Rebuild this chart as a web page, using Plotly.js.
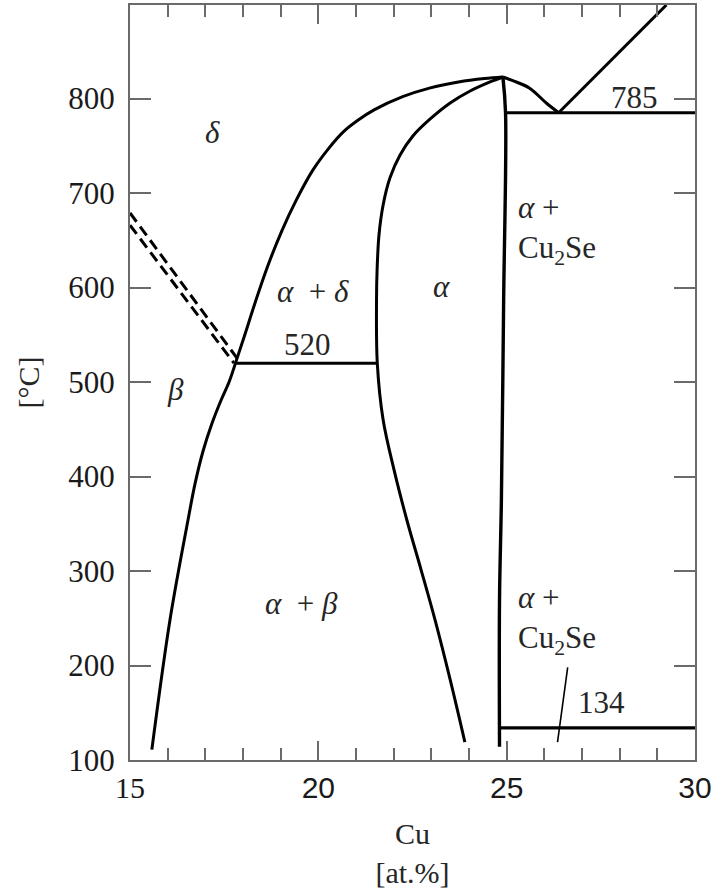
<!DOCTYPE html>
<html>
<head>
<meta charset="utf-8">
<script src="https://cdn.plot.ly/plotly-3.0.1.min.js"></script>
<style>
  html, body { margin: 0; padding: 0; background: #ffffff; }
  #chart { width: 719px; height: 891px; }
</style>
</head>
<body>
<div id="chart"></div>
<script>
// Cu–Se phase boundaries, composition in at.% Cu, temperature in °C

// delta / (alpha + delta) boundary, from the 520 °C eutectoid up to the alpha maximum
const cuDelta = [17.8, 18.04, 18.33, 18.65, 19.02, 19.42, 19.85, 20.25, 20.67, 21.05, 21.48,
                 22.24, 22.95, 23.72, 24.41, 24.9];
const tDelta  = [520, 549, 585, 622, 659, 693, 724, 746, 765, 777, 788,
                 802, 811, 817.5, 821.2, 822.8];

// (alpha + delta) / alpha and alpha / (alpha + beta) boundary, from the maximum downwards
const cuAlpha = [24.9, 24.56, 24.03, 23.50, 22.97, 22.51, 22.17, 21.90, 21.72, 21.61, 21.56, 21.545,
                 21.565, 21.72, 22.01, 22.35, 22.73, 23.10, 23.50, 23.89];
const tAlpha  = [822.8, 817.6, 808, 795.3, 778.4, 760.4, 740.3, 715.9, 687.4, 655.6, 618.6, 587,
                 520, 460, 407, 354, 301, 248, 185, 119];

// alpha / (alpha + Cu2Se) solvus near 25 at.%
const cuSolvus = [24.9, 24.97, 24.92, 24.86, 24.81, 24.81];
const tSolvus  = [822.8, 785, 587, 375, 269, 114];

// liquidus branch falling from the maximum to the 785 °C eutectic
const cuLiqLeft = [24.9, 25.16, 25.61, 26.06, 26.38];
const tLiqLeft  = [822.8, 819, 811, 795, 785];

// liquidus branch rising on the Cu2Se side
const cuLiqRight = [26.38, 29.24];
const tLiqRight  = [785, 899];

// beta / (alpha + beta) boundary
const cuBeta = [17.8, 17.63, 17.42, 17.18, 16.94, 16.73, 16.54, 16.06, 15.58];
const tBeta  = [520, 500, 481, 456.6, 427, 393, 354, 248, 111];

// uncertain delta / beta boundary (double dashed)
const cuDashA = [15.0, 17.92];
const tDashA  = [679, 521];
const cuDashB = [15.0, 17.76];
const tDashB  = [666, 520];

// invariant temperatures
const eutectoidT = 520;
const eutecticT = 785;
const transitionT = 134;
const cuEutectoid = [17.8, 21.565];
const cuEutectic = [24.97, 30];
const cuTransition = [24.81, 30];

// leader line to the 134 °C transition
const cuLeader = [26.62, 26.35];
const tLeader  = [198, 119];

// axes
const xTickVals = [15, 20, 25, 30];
const xTickText = ['15', '20', '25', '30'];
const yTickVals = [100, 200, 300, 400, 500, 600, 700, 800];
const yTickText = ['100', '200', '300', '400', '500', '600', '700', '800'];

// phase field labels
const fieldText = ['<i>δ</i>', '<i>α</i>  + <i>δ</i>', '<i>α</i>', '<i>β</i>', '<i>α</i>  + <i>β</i>',
                   '520', '785', '134'];
const fieldX = [17.18, 19.85, 23.28, 16.22, 19.55, 19.72, 28.4, 27.52];
const fieldY = [764, 596, 601, 492, 266, 540, 801, 161];
const cu2seText = '<i>α</i> +<br>Cu<sub>2</sub>Se';
const cu2seX = [25.25, 25.25];
const cu2seY = [661, 248];

const SERIF = 'Liberation Serif, Times New Roman, serif';
const SANS = 'Liberation Sans, Arial, sans-serif';
const INK = '#000000';
const TEXT = '#262626';
const FRAME = '#6a6a6a';

function boundary(x, y, opts) {
  opts = opts || {};
  return {
    type: 'scatter', mode: 'lines', x: x, y: y, hoverinfo: 'skip', showlegend: false,
    line: Object.assign({ color: INK, width: 3, shape: opts.shape || 'spline', smoothing: 1 },
                        opts.line || {})
  };
}

const traces = [
  boundary(cuDelta, tDelta),
  boundary(cuAlpha, tAlpha),
  boundary(cuSolvus, tSolvus, { line: { width: 3.4 } }),
  boundary(cuLiqLeft, tLiqLeft),
  boundary(cuLiqRight, tLiqRight, { shape: 'linear' }),
  boundary(cuBeta, tBeta),
  boundary(cuDashA, tDashA, { shape: 'linear', line: { dash: '11px,6px' } }),
  boundary(cuDashB, tDashB, { shape: 'linear', line: { dash: '11px,6px' } }),
  boundary(cuEutectoid, [eutectoidT, eutectoidT], { shape: 'linear' }),
  boundary(cuEutectic, [eutecticT, eutecticT], { shape: 'linear' }),
  boundary(cuTransition, [transitionT, transitionT], { shape: 'linear', line: { width: 3.4 } }),
  boundary(cuLeader, tLeader, { shape: 'linear', line: { width: 1.6 } })
];

const annotations = fieldText.map((t, i) => ({
  x: fieldX[i], y: fieldY[i], xref: 'x', yref: 'y', text: t, showarrow: false,
  xanchor: 'center', yanchor: 'middle',
  font: { family: SERIF, size: 31, color: TEXT }
})).concat(cu2seX.map((x, i) => ({
  x: x, y: cu2seY[i], xref: 'x', yref: 'y', text: cu2seText, showarrow: false,
  xanchor: 'left', yanchor: 'middle', align: 'left',
  font: { family: SERIF, size: 31, color: TEXT }
})));

// first x label in the serif face, the others in the sans face
const xTickStyled = xTickText.map((t, i) =>
  i === 0 ? '<span style="font-family:Liberation Serif">' + t + '</span>' : t);

const layout = {
  width: 719, height: 891,
  margin: { l: 130, r: 24, t: 5, b: 131, pad: 0 },
  paper_bgcolor: '#ffffff', plot_bgcolor: '#ffffff',
  showlegend: false,
  xaxis: {
    range: [15, 30], tickvals: xTickVals, ticktext: xTickStyled,
    ticks: 'inside', ticklen: 19, tickwidth: 2, tickcolor: FRAME,
    minor: { dtick: 1, tick0: 15, ticks: 'inside', ticklen: 12, tickwidth: 2, tickcolor: FRAME, showgrid: false },
    showline: true, linecolor: FRAME, linewidth: 2, mirror: 'ticks',
    showgrid: false, zeroline: false,
    tickfont: { family: SANS, size: 30, color: '#1a1a1a' },
    title: { text: 'Cu<br>[at.%]', font: { family: SERIF, size: 30, color: TEXT }, standoff: 20 }
  },
  yaxis: {
    range: [100, 899], tickvals: yTickVals, ticktext: yTickText,
    ticks: 'inside', ticklen: 21, tickwidth: 2, tickcolor: FRAME,
    showline: true, linecolor: FRAME, linewidth: 2, mirror: 'ticks',
    showgrid: false, zeroline: false, ticklabelstandoff: 7,
    tickfont: { family: SERIF, size: 31, color: '#1a1a1a' },
    title: { text: '[°C]', font: { family: SERIF, size: 30, color: TEXT }, standoff: 20 }
  },
  annotations: annotations
};

Plotly.newPlot('chart', traces, layout, { staticPlot: true, displayModeBar: false });
</script>
</body>
</html>
